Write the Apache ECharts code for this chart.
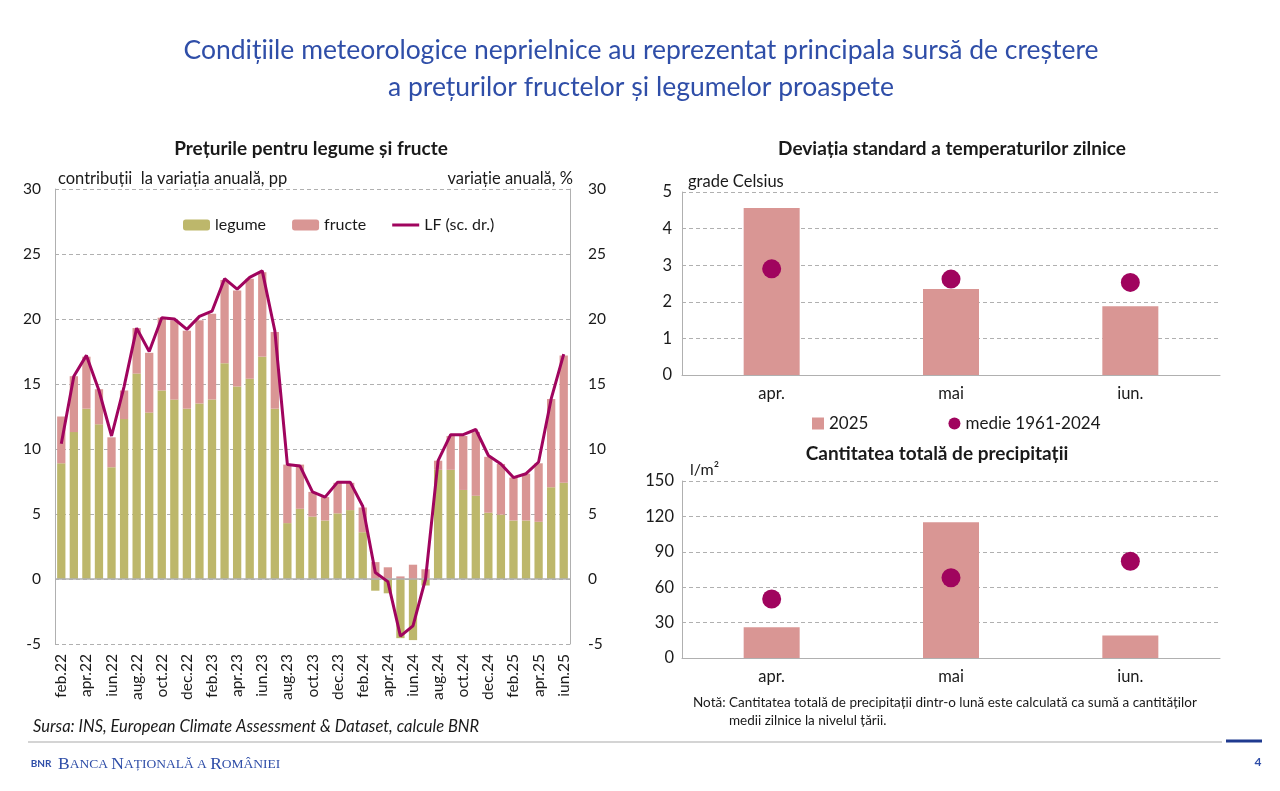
<!DOCTYPE html>
<html><head><meta charset="utf-8">
<script src="https://cdn.jsdelivr.net/npm/echarts@6/dist/echarts.min.js"></script>
<style>html,body{margin:0;padding:0;background:#fff}#c{width:1280px;height:791px}</style>
</head><body><div id="c"></div>
<script>
const months = ['feb.22','mar.22','apr.22','mai.22','iun.22','iul.22','aug.22','sep.22','oct.22','noi.22','dec.22',
  'ian.23','feb.23','mar.23','apr.23','mai.23','iun.23','iul.23','aug.23','sep.23','oct.23','noi.23','dec.23',
  'ian.24','feb.24','mar.24','apr.24','mai.24','iun.24','iul.24','aug.24','sep.24','oct.24','noi.24','dec.24',
  'ian.25','feb.25','mar.25','apr.25','mai.25','iun.25'];
const legume = [8.9,11.3,13.1,11.9,8.6,12.3,15.8,12.8,14.5,13.8,13.1,
  13.5,13.8,16.6,14.8,15.4,17.1,13.1,4.3,5.4,4.8,4.5,5.05,
  5.3,3.6,-0.9,-1.1,-4.55,-4.7,-0.5,8.4,8.4,6.85,6.4,5.1,
  4.95,4.5,4.5,4.4,7.05,7.4];
const fructe = [3.6,4.3,4.0,2.7,2.3,2.2,3.5,4.6,5.6,6.1,6.0,
  6.4,6.6,6.4,7.4,7.7,6.5,5.9,4.5,3.4,1.9,1.8,2.35,
  2.1,1.9,1.3,0.9,0.2,1.1,0.75,0.7,2.6,4.15,4.9,4.3,
  3.9,3.3,3.6,4.5,6.8,9.8];
const lf = [10.4,15.6,17.2,14.5,11.0,14.8,19.3,17.5,20.1,20.0,19.2,
  20.2,20.6,23.1,22.3,23.2,23.7,19.1,8.8,8.7,6.7,6.3,7.45,
  7.45,5.6,0.5,-0.2,-4.4,-3.6,0.0,9.1,11.1,11.1,11.5,9.5,
  8.85,7.8,8.1,9.0,13.85,17.3];
const summerMonths = ['apr.','mai','iun.'];
const tempStd2025 = [4.56, 2.35, 1.88];
const tempStdAvg = [2.9, 2.62, 2.53];
const precip2025 = [26, 115, 19];
const precipAvg = [50, 68, 82];

const FONT = 'Lato, "Open Sans", sans-serif';
const GREEN = '#BDB76B', PINK = '#D99694', PURPLE = '#A0045E';
const TXT = '#1a1a1a', GRID = '#B0B0B0', BLUE = '#2F4EA8';

const chart = echarts.init(document.getElementById('c'), null, {renderer:'canvas'});

function txt(text, x, y, opts) {
  return {type:'text', style:Object.assign({text, x, y, fill:TXT, fontFamily:FONT, fontSize:15,
    textAlign:'left', textVerticalAlign:'middle'}, opts||{})};
}

const yBase = {
  type:'value', axisTick:{show:false},
  axisLabel:{color:TXT, fontFamily:FONT, fontSize:15},
  axisLine:{show:true, lineStyle:{color:GRID}},
  splitLine:{show:true, lineStyle:{color:GRID, type:[4,3]}}
};

const option = {
  animation:false,
  textStyle:{fontFamily:FONT},
  grid:[
    {left:55, right:710, top:189, bottom:147},
    {left:682, right:60, top:192, bottom:416},
    {left:682, right:60, top:481, bottom:133}
  ],
  legend:[
    {data:['legume','fructe',{name:'LF (sc. dr.)', icon:'path://M0 0H27V3H0Z'}], left:178, top:212,
     itemWidth:27, itemHeight:11, itemGap:26,
     textStyle:{color:TXT, fontSize:16, fontFamily:FONT}},
    {data:[{name:'2025', icon:'rect'},{name:'medie 1961-2024', icon:'circle'}], left:807, top:410,
     itemWidth:12, itemHeight:12, itemGap:80, textStyle:{color:TXT, fontSize:17, fontFamily:FONT}}
  ],
  xAxis:[
    {type:'category', gridIndex:0, data:months, axisLine:{show:false}, axisTick:{show:false},
     axisLabel:{rotate:90, interval:1, color:TXT, fontSize:15.5, fontFamily:FONT, margin:10}},
    {type:'category', gridIndex:1, data:summerMonths, axisLine:{lineStyle:{color:GRID}}, axisTick:{show:false},
     axisLabel:{color:TXT, fontSize:16.5, fontFamily:FONT, margin:10}},
    {type:'category', gridIndex:2, data:summerMonths, axisLine:{lineStyle:{color:GRID}}, axisTick:{show:false},
     axisLabel:{color:TXT, fontSize:16.5, fontFamily:FONT, margin:10}}
  ],
  yAxis:[
    Object.assign({}, yBase, {gridIndex:0, min:-5, max:30, interval:5, axisLabel:Object.assign({}, yBase.axisLabel, {fontSize:15.5, margin:14})}),
    Object.assign({}, yBase, {gridIndex:0, min:-5, max:30, interval:5, position:'right', splitLine:{show:false},
      axisLabel:Object.assign({}, yBase.axisLabel, {fontSize:15.5, margin:18})}),
    Object.assign({}, yBase, {gridIndex:1, min:0, max:5, interval:1, axisLabel:Object.assign({}, yBase.axisLabel, {fontSize:16.5, margin:10})}),
    Object.assign({}, yBase, {gridIndex:2, min:0, max:150, interval:30, axisLabel:Object.assign({}, yBase.axisLabel, {fontSize:16.5, margin:8})})
  ],
  series:[
    {name:'legume', type:'bar', stack:'lf', xAxisIndex:0, yAxisIndex:0, data:legume, barCategoryGap:'34%',
     itemStyle:{color:GREEN},
     markLine:{silent:true, symbol:'none', label:{show:false}, lineStyle:{color:GRID, type:'solid', width:1.5},
       data:[{yAxis:0}]}},
    {name:'fructe', type:'bar', stack:'lf', xAxisIndex:0, yAxisIndex:0, data:fructe, itemStyle:{color:PINK}},
    {name:'LF (sc. dr.)', type:'line', xAxisIndex:0, yAxisIndex:1, data:lf, symbol:'none', z:5,
     lineStyle:{color:PURPLE, width:3}, itemStyle:{color:PURPLE}},
    {name:'2025', type:'bar', xAxisIndex:1, yAxisIndex:2, data:tempStd2025, barWidth:56, itemStyle:{color:PINK}},
    {name:'medie 1961-2024', type:'scatter', xAxisIndex:1, yAxisIndex:2, data:tempStdAvg, symbolSize:19, z:5,
     itemStyle:{color:PURPLE, opacity:1}},
    {name:'2025', type:'bar', xAxisIndex:2, yAxisIndex:3, data:precip2025, barWidth:56, itemStyle:{color:PINK}},
    {name:'medie 1961-2024', type:'scatter', xAxisIndex:2, yAxisIndex:3, data:precipAvg, symbolSize:19, z:5,
     itemStyle:{color:PURPLE, opacity:1}}
  ],
  graphic:[
    txt('Condițiile meteorologice neprielnice au reprezentat principala sursă de creștere', 641, 50,
      {textAlign:'center', fontSize:26.5, fill:BLUE}),
    txt('a prețurilor fructelor și legumelor proaspete', 641, 87, {textAlign:'center', fontSize:26.5, fill:BLUE}),
    txt('Prețurile pentru legume și fructe', 311, 149, {textAlign:'center', fontSize:19, fontWeight:'bold'}),
    txt('contribuții  la variația anuală, pp', 58, 179, {fontSize:16.5}),
    txt('variație anuală, %', 573, 179, {fontSize:16.5, textAlign:'right'}),
    txt('Deviația standard a temperaturilor zilnice', 952, 149, {textAlign:'center', fontSize:19, fontWeight:'bold'}),
    txt('grade Celsius', 688, 182, {fontSize:16.5}),
    txt('Cantitatea totală de precipitații', 937, 454, {textAlign:'center', fontSize:19, fontWeight:'bold'}),
    txt('l/m²', 690, 470, {fontSize:16}),
    txt('Notă: Cantitatea totală de precipitații dintr-o lună este calculată ca sumă a cantităților', 693, 703, {fontSize:13.5}),
    txt('medii zilnice la nivelul țării.', 729, 721, {fontSize:13.5}),
    txt('Sursa: INS, European Climate Assessment & Dataset, calcule BNR', 33, 727, {fontSize:16.5, fontStyle:'italic'}),
    {type:'line', shape:{x1:28, y1:742, x2:1222, y2:742}, style:{stroke:'#D4D4D4', lineWidth:2}},
    {type:'line', shape:{x1:1226, y1:741, x2:1262, y2:741}, style:{stroke:'#1F3A8F', lineWidth:3}},
    txt('4', 1258, 762, {fontSize:12, fontWeight:'bold', fill:BLUE, textAlign:'center'}),
    txt('BNR', 41, 764, {fontSize:10, fontWeight:'bold', fill:BLUE, textAlign:'center'}),
    {type:'text', style:{x:58, y:764, textVerticalAlign:'middle', fontFamily:'"Liberation Serif", serif', fill:BLUE,
      rich:{b:{fontSize:17.5, fontFamily:'"Liberation Serif", serif', fill:BLUE}, s:{fontSize:13.5, fontFamily:'"Liberation Serif", serif', fill:BLUE}},
      text:'{b|B}{s|ANCA }{b|N}{s|AȚIONALĂ A }{b|R}{s|OMÂNIEI}'}}
  ]
};
chart.setOption(option);
</script></body></html>
